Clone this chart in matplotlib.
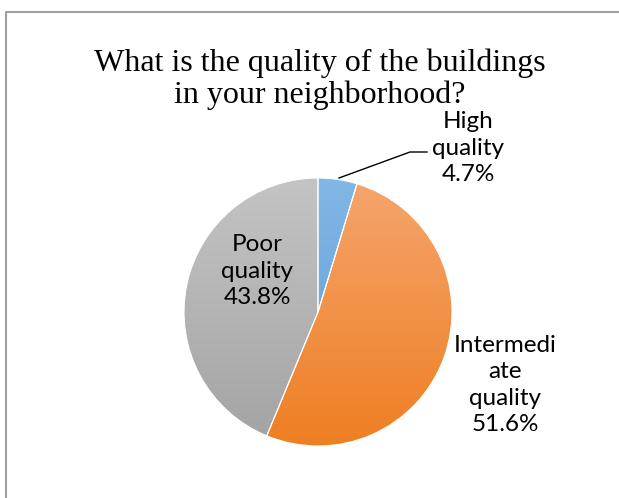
import numpy as np
import matplotlib.pyplot as plt
from matplotlib.colors import LinearSegmentedColormap

labels = ["High\nquality", "Intermedi\nate\nquality", "Poor\nquality"]
shares = [4.7, 51.6, 43.8]
tops = ["#82b7e6", "#f5a56e", "#c4c4c4"]
bottoms = ["#5b9bd5", "#ee7f22", "#a3a3a3"]

W, H = 619, 498
fig = plt.figure(figsize=(W / 100, H / 100), dpi=100)
ax = fig.add_axes([0, 0, 1, 1])

cx, cy, r = 318, H - 312, 134
wedges, _ = ax.pie(shares, startangle=90, counterclock=False, center=(cx, cy),
                   radius=r, wedgeprops=dict(edgecolor="white", linewidth=0.8))

# vertical gradient fill for each slice, clipped to its wedge
grad = np.linspace(0, 1, 256).reshape(-1, 1)
for w, top, bot in zip(wedges, tops, bottoms):
    cmap = LinearSegmentedColormap.from_list("g", [bot, top])
    w.set_facecolor("none")
    im = ax.imshow(grad, cmap=cmap, origin="lower", aspect="auto",
                   extent=(cx - r, cx + r, cy - r, cy + r), zorder=1)
    im.set_clip_path(w)
    w.set_zorder(2)

ax.set_xlim(0, W)
ax.set_ylim(0, H)
ax.set_aspect("auto")
ax.axis("off")

# chart frame
ax.plot([6, 6, W], [0, H - 12, H - 12], color="#a0a0a0", lw=1.5)

ax.text(320, H - 79, "What is the quality of the buildings\nin your neighborhood?",
        ha="center", va="center", fontsize=23, family="Liberation Serif",
        linespacing=1.12)

lab_font = dict(fontsize=17.5, family="Lato", ha="center", va="center", linespacing=1.3)
pos = [(468, H - 148), (505, H - 385), (257, H - 271)]
for (x, y), lab, s in zip(pos, labels, shares):
    ax.text(x, y, f"{lab}\n{s}%", **lab_font)

ax.plot([339, 410, 427], [H - 178, H - 152, H - 152], color="black", lw=1)

fig.savefig("out.png", dpi=100)
